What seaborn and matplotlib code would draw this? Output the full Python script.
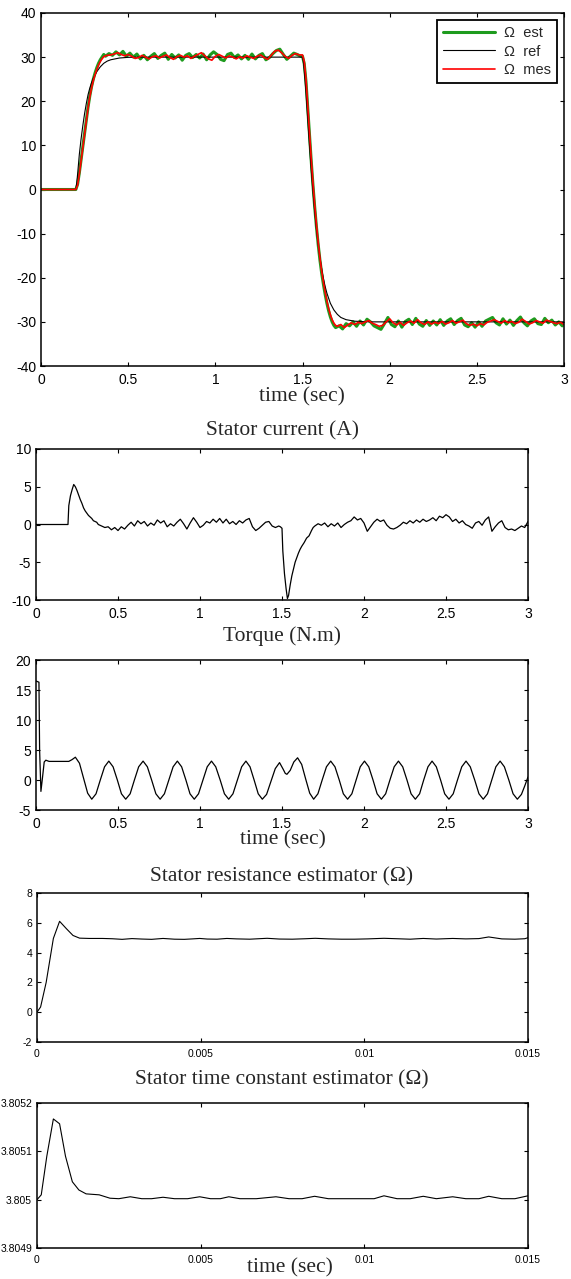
import numpy as np
import seaborn as sns
import matplotlib
matplotlib.use("Agg")
import matplotlib.pyplot as plt
from matplotlib.ticker import FuncFormatter, FixedLocator

# ---------------- speed (panel 1) ----------------
ref_t = [0, 0.2, 0.205, 0.21, 0.22, 0.23, 0.24, 0.25, 0.26, 0.27, 0.28, 0.29, 0.30, 0.32, 0.34,
         0.36, 0.38, 0.40, 0.45, 0.5, 0.55, 1.5, 1.505, 1.51, 1.52, 1.53, 1.54, 1.55, 1.56, 1.57,
         1.58, 1.59, 1.60, 1.61, 1.62, 1.63, 1.64, 1.66, 1.68, 1.70, 1.72, 1.75, 1.80, 1.85, 1.9, 3.0]
ref_v = [0, 0, 1.5, 3.5, 8, 11.5, 14.5, 17.2, 19.5, 21.5, 23, 24.2, 25.2, 26.7, 27.8,
         28.6, 29.1, 29.4, 29.8, 29.95, 30, 30, 29, 27, 22, 16, 10, 4.5, -0.5, -5,
         -9, -12.5, -15.5, -18, -20.2, -22, -23.5, -25.8, -27.3, -28.3, -29, -29.5, -29.85, -29.95, -30, -30]

mes_rise_t = [0, 0.2, 0.21, 0.22, 0.23, 0.24, 0.25, 0.26, 0.27, 0.28, 0.29, 0.30, 0.31, 0.32, 0.33,
              0.34, 0.35, 0.36, 0.37, 0.38]
mes_rise_v = [0, 0, 1.0, 3.5, 6.5, 9.5, 12.5, 15.5, 18.5, 21, 23, 24.7, 26, 27.2, 28.2,
              29, 29.6, 30.1, 30.3, 30.4]
mes_high = [30.5, 30.7, 31.0, 30.6, 30.3, 30.6, 30.2, 29.7, 29.9, 30.4,
            30.0, 29.6, 30.1, 30.3, 29.8, 30.2, 30.5, 29.9, 29.5, 30.1,
            30.4, 30.0, 30.3, 29.7, 30.2, 30.6, 31.0, 30.3, 29.6, 29.3,
            30.2, 30.6, 30.2, 29.8, 30.3, 30.0, 29.6, 30.1, 29.8, 30.3,
            30.0, 29.7, 30.2, 30.5, 29.9, 29.5, 30.4, 31.3, 31.6, 31.0,
            30.2, 29.7, 30.4, 30.8, 30.5]          # 0.40 .. 1.48 step 0.02
mes_drop = [30.5, 29, 25, 19, 13, 7, 1.5, -3.5, -8, -12, -15.5, -18.5, -21, -23.3, -25.3,
            -27, -28.4, -29.5, -30.3, -30.8, -31.0]  # 1.50 .. 1.70 step 0.01
mes_low = [-30.6, -31.3, -30.7, -30.2, -30.6, -30.1, -30.4, -30.0, -29.7, -30.3,
           -30.6, -31.0, -30.8, -30.0, -29.3, -30.2, -30.7, -30.1, -30.8, -30.2,
           -29.8, -30.3, -29.5, -30.2, -30.6, -30.0, -30.5, -30.1, -30.4, -29.9,
           -30.5, -30.2, -29.7, -30.3, -30.0, -29.6, -30.4, -30.8, -30.5, -30.9,
           -30.4, -30.7, -30.1, -29.8, -29.5, -29.9, -30.3, -29.7, -30.2, -29.9,
           -30.4, -30.1, -29.4, -29.9, -30.5, -30.2, -29.7, -30.0, -30.3, -29.6,
           -29.9, -30.2, -30.4, -30.1, -30.6]     # 1.72 .. 3.00 step 0.02

est_rise_t = [0, 0.2, 0.21, 0.22, 0.23, 0.24, 0.25, 0.26, 0.27, 0.28, 0.29, 0.30, 0.31, 0.32, 0.33,
              0.34, 0.35, 0.36, 0.37]
est_rise_v = [0, 0, 1.2, 3.8, 6.8, 9.8, 12.8, 15.8, 18.7, 21.2, 23.3, 25.0, 26.4, 27.6, 28.6,
              29.4, 30.0, 30.6, 30.2]
est_high = [30.8, 30.4, 31.2, 30.5, 31.3, 30.2, 30.9, 30.0, 30.7, 29.6,
            30.4, 29.4, 30.2, 30.8, 29.7, 30.4, 30.9, 29.5, 30.6, 29.8,
            30.5, 29.3, 30.4, 30.8, 29.9, 30.6, 29.8, 30.7, 29.4, 30.5,
            31.2, 30.6, 29.5, 29.2, 30.6, 30.9, 29.9, 30.5, 29.6, 30.4,
            29.5, 30.7, 29.6, 30.4, 30.8, 29.4, 29.9, 30.8, 31.5, 31.8,
            30.6, 29.5, 30.2, 30.9, 30.6, 30.2]    # 0.39 .. 1.49 step 0.02
est_drop = [30.2, 28.5, 24.5, 18.5, 12.5, 6.5, 1.0, -4.0, -8.5, -12.5, -16.0, -19.0, -21.5,
            -23.8, -25.8, -27.5, -28.9, -30.0, -30.8, -31.3]  # 1.50 .. 1.69 step 0.01
est_low = [-30.9, -31.6, -30.4, -30.9, -30.0, -31.0, -29.8, -30.7, -29.4, -30.0,
           -30.9, -31.3, -31.7, -30.4, -29.0, -30.6, -31.1, -29.8, -31.2, -29.9,
           -29.4, -30.6, -29.2, -30.5, -31.0, -29.7, -30.8, -29.8, -30.7, -29.5,
           -30.8, -29.8, -29.3, -30.6, -29.7, -29.2, -30.7, -31.1, -30.2, -31.2,
           -30.0, -31.0, -29.8, -29.4, -29.0, -30.2, -30.7, -29.3, -30.5, -29.6,
           -30.8, -29.7, -28.9, -30.2, -30.9, -29.8, -29.3, -30.4, -30.6, -29.2,
           -30.2, -29.6, -30.7, -30.0, -30.9]      # 1.71 .. 2.99 step 0.02

# ---------------- stator current (panel 2) ----------------
cur_rise_t = [0, 0.195, 0.20, 0.21, 0.22, 0.23, 0.24, 0.25, 0.26, 0.27, 0.28, 0.29, 0.30, 0.31,
              0.32, 0.33, 0.34, 0.35, 0.36, 0.37, 0.38, 0.39]
cur_rise_v = [0, 0, 2.5, 3.8, 4.6, 5.3, 5.0, 4.5, 3.9, 3.3, 2.8, 2.2, 1.8, 1.5,
              1.2, 1.0, 0.8, 0.5, 0.4, 0.3, 0.0, -0.1]
cur_mid = [-0.2, -0.4, -0.3, -0.7, -0.4, -0.8, -0.3, -0.6, -0.1, 0.3,
           -0.2, 0.5, 0.1, 0.4, -0.2, 0.2, -0.1, 0.6, 0.2, 0.5,
           -0.3, 0.1, -0.2, 0.3, 0.7, 0.1, -0.6, 0.2, 0.9, 0.3,
           -0.4, -0.1, 0.4, 0.2, 0.7, 0.3, 0.8, 0.2, 0.7, 0.1,
           0.4, 0.0, 0.5, 0.2, 0.6, 0.8, -0.3, -0.8, -0.5, -0.1,
           0.3, 0.4, -0.2, -0.4, -0.2]             # 0.40 .. 1.48 step 0.02
cur_drop_t = [1.49, 1.50, 1.505, 1.515, 1.525, 1.533, 1.54, 1.55, 1.56, 1.57, 1.58, 1.59, 1.60,
              1.61, 1.62, 1.635, 1.65, 1.665, 1.68, 1.69]
cur_drop_v = [-0.3, -0.5, -3.5, -6.5, -8.5, -9.8, -9.4, -8.0, -6.8, -5.9, -5.0, -4.4, -3.8,
              -3.3, -2.9, -2.4, -1.8, -1.5, -0.8, -0.4]
cur_end = [-0.2, 0.1, -0.1, 0.2, -0.3, 0.1, -0.2, 0.2, -0.4, 0.0,
           0.3, 0.5, 1.0, 0.6, 0.8, 0.2, -0.9, -0.3, 0.3, 0.7,
           0.4, 0.6, -0.1, -0.5, -0.6, -0.4, -0.1, 0.3, 0.1, 0.5,
           0.2, 0.6, 0.3, 0.7, 0.4, 0.6, 0.9, 0.5, 1.1, 0.9,
           1.3, 1.0, 0.4, 0.7, 0.2, 0.5, 0.0, -0.2, -0.5, 0.2,
           0.4, -0.1, 0.6, 1.0, -0.9, -0.3, 0.2, 0.5, -0.4, -0.7,
           -0.6, -0.8, -0.5, -0.2, -0.4, 0.4]      # 1.70 .. 3.00 step 0.02

# ---------------- torque (panel 3) ----------------
trq_t = [0, 0.018, 0.022, 0.03, 0.04, 0.05, 0.06, 0.08, 0.2, 0.22, 0.24,
         0.265, 0.29, 0.315, 0.34, 0.366, 0.392, 0.418, 0.444, 0.47, 0.496, 0.521, 0.547,
         0.574, 0.6, 0.626, 0.653, 0.679, 0.705, 0.731, 0.757, 0.783, 0.81, 0.836, 0.862,
         0.888, 0.914, 0.939, 0.965, 0.991, 1.018, 1.044, 1.07, 1.096, 1.123, 1.149, 1.175,
         1.201, 1.228, 1.254, 1.28, 1.305, 1.33, 1.355, 1.38, 1.406, 1.433, 1.459, 1.485,
         1.507, 1.52, 1.53, 1.55, 1.572, 1.595, 1.62, 1.644, 1.669, 1.693,
         1.719, 1.745, 1.771, 1.797, 1.823, 1.849, 1.874, 1.9, 1.926, 1.952, 1.977, 2.003,
         2.029, 2.055, 2.08, 2.106, 2.132, 2.158, 2.184, 2.21, 2.236, 2.262, 2.287, 2.313,
         2.339, 2.364, 2.39, 2.415, 2.441, 2.467, 2.492, 2.518, 2.544, 2.57, 2.596, 2.622,
         2.648, 2.675, 2.701, 2.727, 2.753, 2.779, 2.804, 2.83, 2.856, 2.883, 2.909, 2.935,
         2.96, 2.98, 3.0]
trq_v = [16.5, 16.3, 5, -1.9, 0.5, 3.0, 3.3, 3.1, 3.1, 3.4, 3.8,
         2.8, 0.3, -2.2, -3.2, -2.3, 0.0, 2.2, 3.15, 2.2, 0.0, -2.3, -3.2,
         -2.3, 0.0, 2.2, 3.15, 2.2, 0.0, -2.3, -3.2, -2.3, 0.0, 2.2, 3.15,
         2.2, 0.0, -2.3, -3.2, -2.3, 0.0, 2.2, 3.15, 2.2, 0.0, -2.3, -3.2,
         -2.3, 0.0, 2.2, 3.15, 2.2, 0.0, -2.3, -3.2, -2.4, -0.2, 1.9, 2.9,
         1.8, 1.1, 0.95, 1.6, 3.0, 3.7, 2.6, 0.2, -2.2, -3.2,
         -2.3, 0.0, 2.2, 3.15, 2.2, 0.0, -2.3, -3.2, -2.3, 0.0, 2.2, 3.15,
         2.2, 0.0, -2.3, -3.2, -2.3, 0.0, 2.2, 3.15, 2.2, 0.0, -2.3, -3.2,
         -2.3, 0.0, 2.2, 3.15, 2.2, 0.0, -2.3, -3.2, -2.3, 0.0, 2.2, 3.15,
         2.2, 0.0, -2.3, -3.2, -2.3, 0.0, 2.2, 3.15, 2.2, 0.0, -2.3, -3.2,
         -2.4, -1.0, 0.5]

# ---------------- stator resistance estimator (panel 4) ----------------
res_t = [0, 0.00011, 0.00028, 0.0005, 0.00069, 0.0009, 0.0011, 0.0013, 0.0016, 0.002,
         0.0023, 0.0026, 0.0029, 0.0032, 0.0035, 0.00385, 0.0042, 0.0045, 0.00475, 0.00497,
         0.0052, 0.0055, 0.0058, 0.0061, 0.0065, 0.00703, 0.0074, 0.0078, 0.0082, 0.0085,
         0.0089, 0.0093, 0.0097, 0.0101, 0.0106, 0.011, 0.0114, 0.0118, 0.0122, 0.0127,
         0.0131, 0.0135, 0.0138, 0.0142, 0.0146, 0.0149, 0.015]
res_v = [0, 0.35, 2.0, 4.95, 6.1, 5.6, 5.15, 4.97, 4.95, 4.95,
         4.93, 4.89, 4.94, 4.91, 4.89, 4.95, 4.9, 4.89, 4.92, 4.95,
         4.91, 4.9, 4.95, 4.92, 4.9, 4.96, 4.91, 4.9, 4.93, 4.96,
         4.92, 4.9, 4.9, 4.92, 4.96, 4.93, 4.9, 4.95, 4.91, 4.95,
         4.92, 4.94, 5.05, 4.92, 4.9, 4.93, 5.0]

# ---------------- stator time constant estimator (panel 5) ----------------
tc_t = [0, 0.00013, 0.0003, 0.0005, 0.00069, 0.00087, 0.00108, 0.00128, 0.0015, 0.0019,
        0.00223, 0.0025, 0.00285, 0.0032, 0.0035, 0.00385, 0.0042, 0.0046, 0.00497, 0.0053,
        0.0056, 0.00586, 0.0062, 0.0067, 0.0073, 0.0077, 0.0081, 0.00848, 0.0089, 0.0094,
        0.0099, 0.0103, 0.0106, 0.011, 0.0114, 0.0118, 0.0122, 0.0127, 0.0131, 0.0135,
        0.0138, 0.0142, 0.0146, 0.015]
tc_v = [3.805, 3.80501, 3.80509, 3.805167, 3.805157, 3.80509, 3.805037, 3.80502, 3.805012, 3.80501,
        3.805003, 3.805002, 3.805006, 3.805002, 3.805002, 3.805005, 3.805002, 3.805002, 3.805006, 3.805002,
        3.805002, 3.805006, 3.805002, 3.805002, 3.805006, 3.805002, 3.805002, 3.805007, 3.805002, 3.805002,
        3.805002, 3.805002, 3.805008, 3.805002, 3.805002, 3.805007, 3.805002, 3.805006, 3.805002, 3.805002,
        3.805007, 3.805002, 3.805002, 3.805008]


def grid(t0, step, vals):
    return list(np.round(t0 + step * np.arange(len(vals)), 4))


mes_t = mes_rise_t + grid(0.40, 0.02, mes_high) + grid(1.50, 0.01, mes_drop) + grid(1.72, 0.02, mes_low)
mes_v = mes_rise_v + mes_high + mes_drop + mes_low
est_t = est_rise_t + grid(0.39, 0.02, est_high) + grid(1.50, 0.01, est_drop) + grid(1.71, 0.02, est_low)
est_v = est_rise_v + est_high + est_drop + est_low
cur_t = cur_rise_t + grid(0.40, 0.02, cur_mid) + cur_drop_t + grid(1.70, 0.02, cur_end)
cur_v = cur_rise_v + cur_mid + cur_drop_v + cur_end

sns.set_theme(style="ticks")
plt.rcParams["font.family"] = ["Liberation Sans", "DejaVu Sans"]
plt.rcParams.update({
    "xtick.direction": "in", "ytick.direction": "in",
    "xtick.top": True, "ytick.right": True,
    "xtick.major.size": 3, "ytick.major.size": 3,
    "xtick.major.width": 0.8, "ytick.major.width": 0.8,
    "xtick.major.pad": 5, "ytick.major.pad": 3.5,
    "axes.linewidth": 1.1, "axes.edgecolor": "black",
    "xtick.color": "black", "ytick.color": "black",
})
serif = ["Liberation Serif", "DejaVu Serif"]

W, H = 571, 1279
fig = plt.figure(figsize=(W / 100, H / 100), dpi=100)


def box(l, r, t, b):
    return fig.add_axes([l / W, 1 - b / H, (r - l) / W, (b - t) / H])


def style(ax, xlim, xticks, ylim, yticks, fs):
    ax.set_xlim(*xlim)
    ax.set_ylim(*ylim)
    ax.xaxis.set_major_locator(FixedLocator(xticks))
    ax.yaxis.set_major_locator(FixedLocator(yticks))
    fmt = FuncFormatter(lambda v, p: "%g" % v)
    ax.xaxis.set_major_formatter(fmt)
    ax.yaxis.set_major_formatter(fmt)
    ax.tick_params(labelsize=fs)
    ax.set_xlabel("")
    ax.set_ylabel("")
    for s in ax.spines.values():
        s.set_visible(True)


def label(x, y, text, fs=15.5):
    fig.text(x / W, 1 - y / H, text, ha="center", va="center", family=serif, fontsize=fs)


secs = [0, 0.5, 1, 1.5, 2, 2.5, 3]

# panel 1
ax1 = box(41, 564, 13, 366)
sns.lineplot(x=est_t, y=est_v, ax=ax1, color="#1e9b1e", lw=2.2, estimator=None, sort=False, label="\u03a9  est")
sns.lineplot(x=ref_t, y=ref_v, ax=ax1, color="black", lw=0.8, estimator=None, sort=False, label="\u03a9  ref")
sns.lineplot(x=mes_t, y=mes_v, ax=ax1, color="#ff0000", lw=1.2, estimator=None, sort=False, label="\u03a9  mes")
style(ax1, (0, 3), secs, (-40, 40), list(range(-40, 41, 10)), 10)
leg = ax1.legend(loc="upper right", fontsize=10.5, handlelength=3.6, labelspacing=0.3,
                 borderaxespad=0.5, fancybox=False, framealpha=1, borderpad=0.4, handletextpad=0.6)
leg.get_frame().set_edgecolor("black")
leg.get_frame().set_linewidth(1.3)
label(302, 397, "time (sec)")

# panel 2
ax2 = box(36, 528, 449, 600)
sns.lineplot(x=cur_t, y=cur_v, ax=ax2, color="black", lw=0.9, estimator=None, sort=False)
style(ax2, (0, 3), secs, (-10, 10), [-10, -5, 0, 5, 10], 10)
label(282, 431, "Stator current (A)")

# panel 3
ax3 = box(36, 528, 660, 810)
sns.lineplot(x=trq_t, y=trq_v, ax=ax3, color="black", lw=0.9, estimator=None, sort=False)
style(ax3, (0, 3), secs, (-5, 20), [-5, 0, 5, 10, 15, 20], 10)
label(282, 636, "Torque (N.m)")
label(283, 840, "time (sec)")

# panel 4
ms = [0, 0.005, 0.01, 0.015]
ax4 = box(37, 528, 893, 1042)
sns.lineplot(x=res_t, y=res_v, ax=ax4, color="black", lw=0.8, estimator=None, sort=False)
style(ax4, (0, 0.015), ms, (-2, 8), [-2, 0, 2, 4, 6, 8], 7.5)
label(282, 877, "Stator resistance estimator (\u03a9)")

# panel 5
ax5 = box(37, 528, 1103, 1248)
sns.lineplot(x=tc_t, y=tc_v, ax=ax5, color="black", lw=0.8, estimator=None, sort=False)
style(ax5, (0, 0.015), ms, (3.8049, 3.8052), [3.8049, 3.805, 3.8051, 3.8052], 7.5)
label(282, 1080, "Stator time constant estimator (\u03a9)")
label(290, 1268, "time (sec)")

fig.savefig("out.png", dpi=100)
